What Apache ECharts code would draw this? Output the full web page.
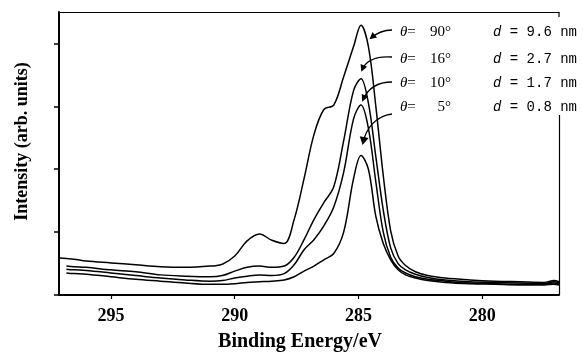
<!DOCTYPE html>
<html>
<head>
<meta charset="utf-8">
<script src="https://cdn.jsdelivr.net/npm/echarts@6/dist/echarts.min.js"></script>
<style>html,body{margin:0;padding:0;background:#fff}#chart{width:583px;height:354px}</style>
</head>
<body>
<div id="chart"></div>
<script>
// Binding energy grid (eV), shared by all four spectra
const energy = [297.1, 296.8, 296.5, 296, 295, 294, 293, 292, 291, 290.5, 290, 289.5, 289, 288.5, 288, 287.6, 287.2, 286.8, 286.4, 286, 285.6, 285.2, 284.9, 284.6, 284.3, 284, 283.7, 283.4, 283.1, 282.7, 282.2, 281.5, 280.5, 279.5, 278.5, 277.5, 277.1, 276.9];
// Intensities (arb. units) for each take-off angle
const theta90 = [0.59, 0.58, 0.57, 0.54, 0.51, 0.48, 0.45, 0.44, 0.46, 0.49, 0.62, 0.86, 0.97, 0.87, 0.82, 1.2, 1.85, 2.55, 2.95, 3.02, 3.47, 3.95, 4.29, 3.95, 3.0, 1.9, 1.02, 0.62, 0.47, 0.37, 0.31, 0.27, 0.24, 0.22, 0.21, 0.2, 0.23, 0.21];
const theta16 = [null, 0.46, 0.45, 0.44, 0.40, 0.37, 0.32, 0.30, 0.29, 0.31, 0.38, 0.44, 0.46, 0.44, 0.46, 0.6, 0.88, 1.2, 1.47, 1.72, 2.45, 3.25, 3.44, 3.05, 2.2, 1.35, 0.75, 0.5, 0.4, 0.33, 0.28, 0.24, 0.21, 0.2, 0.19, 0.18, 0.21, 0.19];
const theta10 = [null, 0.41, 0.40, 0.39, 0.35, 0.31, 0.27, 0.24, 0.22, 0.23, 0.27, 0.30, 0.32, 0.31, 0.34, 0.48, 0.72, 0.88, 1.1, 1.4, 1.95, 2.8, 3.02, 2.65, 1.8, 1.0, 0.6, 0.43, 0.35, 0.29, 0.25, 0.22, 0.19, 0.18, 0.17, 0.17, 0.19, 0.17];
const theta05 = [null, 0.35, 0.34, 0.33, 0.29, 0.25, 0.22, 0.19, 0.17, 0.17, 0.18, 0.2, 0.21, 0.22, 0.24, 0.29, 0.38, 0.46, 0.56, 0.66, 1.0, 1.85, 2.22, 2.0, 1.25, 0.82, 0.56, 0.4, 0.32, 0.27, 0.23, 0.2, 0.18, 0.17, 0.16, 0.16, 0.17, 0.16];
// Tick labels / marks
const xTicks = [280, 285, 290, 295];
const yTicks = [0, 1, 2, 3, 4];
// Annotation texts
const thetaLabels = ['90°', '16°', '10°', '5°'];
const depthLabels = ['9.6', '2.7', '1.7', '0.8'];

const chart = echarts.init(document.getElementById('chart'));
const serif = 'Liberation Serif';
const mono = 'Liberation Mono';

function pairs(arr) {
  const out = [];
  energy.forEach((e, i) => { if (arr[i] !== null) out.push([e, arr[i]]); });
  return out;
}
function lineSeries(arr) {
  return {
    type: 'line', data: pairs(arr), xAxisIndex: 0, yAxisIndex: 0,
    symbol: 'none', smooth: 0.35, animation: false,
    lineStyle: { color: '#000', width: 1.5 }
  };
}

// Annotation geometry (pixel layout)
const rowY = [32, 59, 83, 107];
const arrows = [
  { s: [392, 30], c1: [384, 30], c2: [378, 32], e: [371, 38], len: 7, half: 3.5 },
  { s: [392, 57], c1: [377, 56], c2: [366, 60], e: [362, 70], len: 7, half: 3.5 },
  { s: [392, 82], c1: [378, 82], c2: [368, 88], e: [363, 100], len: 7, half: 3.5 },
  { s: [392, 114], c1: [376, 116], c2: [366, 128], e: [363, 143], len: 8, half: 4.5 }
];
function head(a) {
  const dx = a.e[0] - a.c2[0], dy = a.e[1] - a.c2[1];
  const L = Math.hypot(dx, dy); const ux = dx / L, uy = dy / L;
  const tip = [a.e[0] + ux * 2, a.e[1] + uy * 2];
  const bx = tip[0] - ux * a.len, by = tip[1] - uy * a.len;
  return [tip, [bx - uy * a.half, by + ux * a.half], [bx + uy * a.half, by - ux * a.half]];
}
const graphics = [];
arrows.forEach(a => {
  graphics.push({ type: 'bezierCurve', silent: true,
    shape: { x1: a.s[0], y1: a.s[1], cpx1: a.c1[0], cpy1: a.c1[1], cpx2: a.c2[0], cpy2: a.c2[1], x2: a.e[0], y2: a.e[1] },
    style: { stroke: '#000', fill: null, lineWidth: 1.4 } });
  graphics.push({ type: 'polygon', silent: true, shape: { points: head(a) }, style: { fill: '#000' } });
});
thetaLabels.forEach((t, i) => {
  graphics.push({ type: 'text', x: 400, y: rowY[i], style: {
    text: '{t|θ}{e|=}', verticalAlign: 'middle', align: 'left',
    rich: { t: { fontFamily: serif, fontStyle: 'italic', fontSize: 15, fill: '#000' }, e: { fontFamily: serif, fontSize: 15, fill: '#000' } } } });
  graphics.push({ type: 'text', x: 451, y: rowY[i], style: {
    text: t, verticalAlign: 'middle', align: 'right', fontFamily: serif, fontSize: 15, fill: '#000' } });
});
depthLabels.forEach((d, i) => {
  graphics.push({ type: 'text', x: 493, y: rowY[i], style: {
    text: '{d|d}{r| = ' + d + ' nm}', verticalAlign: 'middle', align: 'left',
    rich: { d: { fontFamily: mono, fontStyle: 'italic', fontSize: 14, fill: '#000' }, r: { fontFamily: mono, fontSize: 14, fill: '#000' } } } });
});
// partial right frame
graphics.push({ type: 'line', silent: true, shape: { x1: 559, y1: 12, x2: 559, y2: 17 }, style: { stroke: '#000', lineWidth: 1.2 } });
graphics.push({ type: 'line', silent: true, shape: { x1: 559.5, y1: 115, x2: 559.5, y2: 295 }, style: { stroke: '#000', lineWidth: 1.2 } });

chart.setOption({
  animation: false,
  backgroundColor: '#fff',
  grid: { left: 59, right: 24, top: 12, bottom: 59, containLabel: false, outerBoundsMode: 'none' },
  xAxis: [{
    type: 'value', inverse: true, min: 276.9, max: 297.1,
    axisLine: { show: true, lineStyle: { color: '#000', width: 2 } },
    axisTick: { show: true, customValues: xTicks, length: 4, lineStyle: { color: '#000', width: 1.2 } },
    axisLabel: { show: true, customValues: xTicks, margin: 12, fontFamily: serif, fontWeight: 'bold', fontSize: 18, color: '#000' },
    splitLine: { show: false },
    name: 'Binding Energy/eV', nameLocation: 'middle', nameGap: 37,
    nameTextStyle: { fontFamily: serif, fontWeight: 'bold', fontSize: 20, color: '#000', padding: [0, 18, 0, 0] }
  }, {
    type: 'value', position: 'top', inverse: true, min: 276.9, max: 297.1,
    axisLine: { show: true, lineStyle: { color: '#000', width: 1.2 } },
    axisTick: { show: false }, axisLabel: { show: false }, splitLine: { show: false }
  }],
  yAxis: {
    type: 'value', min: 0, max: 4.5,
    axisLine: { show: true, lineStyle: { color: '#000', width: 2 } },
    axisTick: { show: true, customValues: yTicks, length: 5, lineStyle: { color: '#000', width: 1.5 } },
    axisLabel: { show: false },
    splitLine: { show: false },
    name: 'Intensity (arb. units)', nameLocation: 'middle', nameGap: 28,
    nameTextStyle: { fontFamily: serif, fontWeight: 'bold', fontSize: 18, color: '#000', padding: [0, 0, 0, 24] }
  },
  series: [lineSeries(theta90), lineSeries(theta16), lineSeries(theta10), lineSeries(theta05)],
  graphic: graphics
});
</script>
</body>
</html>
